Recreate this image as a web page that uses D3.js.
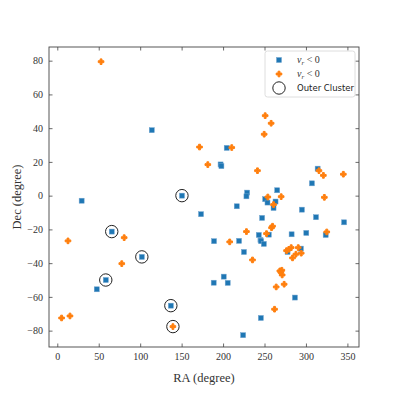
<!DOCTYPE html>
<html>
<head>
<meta charset="utf-8">
<script src="https://cdn.jsdelivr.net/npm/d3@7"></script>
<style>
  body { margin: 0; background: #fff; }
  svg { display: block; }
  .tick text { font-family: "Liberation Serif", "DejaVu Serif", serif; }
</style>
</head>
<body>
<div id="chart"></div>
<script>
/* CONSTANTS AND GLOBALS */
const width = 399,
  height = 399,
  margin = { top: 47, bottom: 52, left: 49, right: 40 };

// blue squares (first legend entry)
const blueRA = [114, 150.4, 29.4, 173.4, 65.7, 102, 58.5, 47.6, 137, 204.4, 197, 198,
  314.1, 307.2, 265.3, 229, 228.2, 250.8, 253.6, 263.3, 260.9, 216.5, 295.1, 312.1,
  247.1, 346, 323.8, 300.4, 282.7, 255.2, 243.1, 245.1, 245.9, 249.2, 219.3, 189.1,
  225.2, 293.9, 277.8, 286.7, 200.8, 188.7, 205.6, 245.6, 224.2];
const blueDec = [38.8, 0, -3, -11, -21.3, -36.3, -50, -55.5, -65.2, 28.3, 18.5, 17.5,
  16, 7.3, 3.2, 1.8, -0.4, -2.1, -4.1, -3.5, -7.3, -6.3, -8.3, -12.8,
  -13.2, -15.8, -23.3, -22.1, -22.9, -23.1, -23.3, -26.3, -27, -28.6, -26.8, -27,
  -33.4, -31.4, -33.4, -60.4, -48, -51.6, -51.7, -72.5, -82.7];

// orange plus markers (second legend entry)
const orangeRA = [52.8, 171.6, 181.6, 80.7, 12.9, 77.8, 5.2, 15.3, 139.5, 250.8, 258,
  249.6, 210.5, 241.5, 315.7, 321, 345.1, 322.2, 270.1, 254, 260.9, 325.1, 259.7,
  258.5, 228.2, 252.4, 208, 235.5, 276.6, 279.4, 282.2, 290.7, 294.3, 287.9, 283.8,
  268.5, 270.9, 271.3, 269.7, 273.7, 264.1, 262.1];
const orangeDec = [79.4, 28.8, 18.4, -24.9, -26.8, -40.3, -72.5, -71.3, -77.6, 47.4, 42.9,
  36.4, 28.5, 14.8, 14.8, 12, 12.7, -1, -0.6, -0.8, -5.3, -21.5, -18.1,
  -19, -21.3, -22.5, -27.4, -38.1, -32.6, -31.8, -30.8, -30.8, -34.1, -34.7, -36.9,
  -44.6, -44.2, -47, -45.4, -52.5, -54.1, -67.3];

// outer cluster members (open circles)
const clusterRA = [150.4, 65.7, 102, 58.5, 137, 139.5];
const clusterDec = [0, -21.3, -36.3, -50, -65.2, -77.6];

const xTicks = [0, 50, 100, 150, 200, 250, 300, 350];
const yTicks = [-80, -60, -40, -20, 0, 20, 40, 60, 80];

const xDomain = [-10, 364];
const yDomain = [-89.7, 88.1];

const blueColor = "#1f77b4",
  orangeColor = "#ff7f0e";

/* BUILD */
const svg = d3.select("#chart").append("svg")
  .attr("width", width)
  .attr("height", height);

const xScale = d3.scaleLinear().domain(xDomain).range([margin.left, width - margin.right]);
const yScale = d3.scaleLinear().domain(yDomain).range([height - margin.bottom, margin.top]);

const fmt = d => d < 0 ? "\u2212" + Math.abs(d) : "" + d;

// axes, ticks pointing inward on all four sides
const axisB = d3.axisBottom(xScale).tickValues(xTicks).tickSizeInner(-3.5).tickSizeOuter(0).tickPadding(6).tickFormat(fmt);
const axisT = d3.axisTop(xScale).tickValues(xTicks).tickSizeInner(-3.5).tickSizeOuter(0).tickFormat("");
const axisL = d3.axisLeft(yScale).tickValues(yTicks).tickSizeInner(-3.5).tickSizeOuter(0).tickPadding(6).tickFormat(fmt);
const axisR = d3.axisRight(yScale).tickValues(yTicks).tickSizeInner(-3.5).tickSizeOuter(0).tickFormat("");

function styleAxis(g) {
  g.select(".domain").remove();
  g.selectAll(".tick line").attr("stroke", "#444").attr("stroke-width", 0.8);
  g.selectAll(".tick text").attr("font-size", 10).attr("fill", "#333");
}

svg.append("g").attr("transform", `translate(0,${height - margin.bottom})`).call(axisB).call(styleAxis);
svg.append("g").attr("transform", `translate(0,${margin.top})`).call(axisT).call(styleAxis);
svg.append("g").attr("transform", `translate(${margin.left},0)`).call(axisL).call(styleAxis);
svg.append("g").attr("transform", `translate(${width - margin.right},0)`).call(axisR).call(styleAxis);

// frame
svg.append("rect")
  .attr("x", margin.left).attr("y", margin.top)
  .attr("width", width - margin.left - margin.right)
  .attr("height", height - margin.top - margin.bottom)
  .attr("fill", "none").attr("stroke", "#444").attr("stroke-width", 0.9);

// axis labels
svg.append("text")
  .attr("x", (margin.left + width - margin.right) / 2)
  .attr("y", 382)
  .attr("text-anchor", "middle")
  .attr("font-family", "Liberation Serif, DejaVu Serif, serif")
  .attr("font-size", 12.5)
  .attr("fill", "#333")
  .text("RA (degree)");

svg.append("text")
  .attr("transform", `translate(21,${(margin.top + height - margin.bottom) / 2}) rotate(-90)`)
  .attr("text-anchor", "middle")
  .attr("font-family", "Liberation Serif, DejaVu Serif, serif")
  .attr("font-size", 12.5)
  .attr("fill", "#333")
  .text("Dec (degree)");

// marker shapes
const sq = 5;
const plusPath = s => {
  const a = s / 6;
  return `M${-a},${-3 * a}H${a}V${-a}H${3 * a}V${a}H${a}V${3 * a}H${-a}V${a}H${-3 * a}V${-a}H${-a}Z`;
};

const blueData = blueRA.map((ra, i) => ({ ra, dec: blueDec[i] }));
const orangeData = orangeRA.map((ra, i) => ({ ra, dec: orangeDec[i] }));
const clusterData = clusterRA.map((ra, i) => ({ ra, dec: clusterDec[i] }));

svg.append("g").selectAll("rect")
  .data(blueData)
  .join("rect")
  .attr("x", d => xScale(d.ra) - sq / 2)
  .attr("y", d => yScale(d.dec) - sq / 2)
  .attr("width", sq).attr("height", sq)
  .attr("fill", blueColor)
  .attr("stroke", "#6fa3cf").attr("stroke-width", 0.5);

svg.append("g").selectAll("path")
  .data(orangeData)
  .join("path")
  .attr("transform", d => `translate(${xScale(d.ra)},${yScale(d.dec)})`)
  .attr("d", plusPath(5.6))
  .attr("fill", orangeColor)
  .attr("stroke", orangeColor).attr("stroke-width", 1).attr("stroke-linejoin", "round");

svg.append("g").selectAll("circle")
  .data(clusterData)
  .join("circle")
  .attr("cx", d => xScale(d.ra))
  .attr("cy", d => yScale(d.dec))
  .attr("r", 6.2)
  .attr("fill", "none")
  .attr("stroke", "#222").attr("stroke-width", 1);

/* LEGEND */
const legend = svg.append("g");
legend.append("rect")
  .attr("x", 265).attr("y", 51).attr("width", 90).attr("height", 46)
  .attr("rx", 2.5)
  .attr("fill", "#fff").attr("fill-opacity", 0.8)
  .attr("stroke", "#d5d5d5").attr("stroke-width", 0.8);

const lx = 279, tx = 297;
legend.append("rect")
  .attr("x", lx - sq / 2).attr("y", 60 - sq / 2).attr("width", sq).attr("height", sq)
  .attr("fill", blueColor).attr("stroke", "#6fa3cf").attr("stroke-width", 0.5);
legend.append("path")
  .attr("transform", `translate(${lx},74)`)
  .attr("d", plusPath(5.6))
  .attr("fill", orangeColor).attr("stroke", orangeColor).attr("stroke-width", 1).attr("stroke-linejoin", "round");
legend.append("circle")
  .attr("cx", lx).attr("cy", 88).attr("r", 6.2)
  .attr("fill", "none").attr("stroke", "#222").attr("stroke-width", 1);

const mathLabel = (y) => {
  const t = legend.append("text")
    .attr("x", tx).attr("y", y)
    .attr("font-family", "Liberation Serif, DejaVu Serif, serif")
    .attr("font-size", 10)
    .attr("fill", "#333");
  t.append("tspan").attr("font-style", "italic").text("v");
  t.append("tspan").attr("font-style", "italic").attr("font-size", 7).attr("dy", 2).text("r");
  t.append("tspan").attr("dy", -2).text(" < 0");
};
mathLabel(63);
mathLabel(77);

legend.append("text")
  .attr("x", tx).attr("y", 91)
  .attr("font-family", "DejaVu Sans, sans-serif")
  .attr("font-size", 8.5)
  .attr("fill", "#222")
  .text("Outer Cluster");
</script>
</body>
</html>
